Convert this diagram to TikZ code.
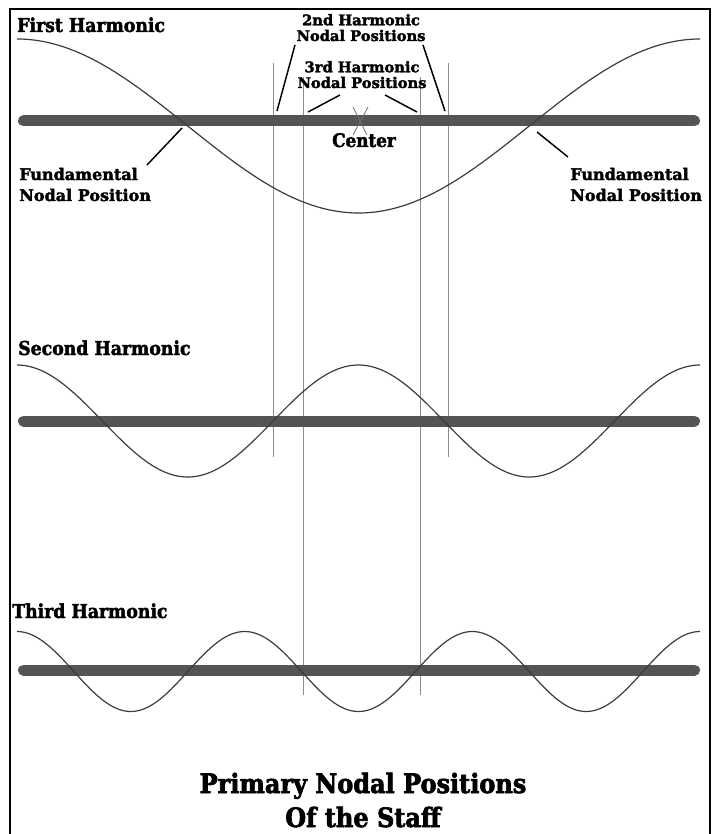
\documentclass[tikz,border=0pt]{standalone}
\usepackage{fontspec}
\newfontfamily\hfont{DejaVu Serif}[BoldFeatures={FakeBold=2.2}]
\newfontfamily\cfont{DejaVu Serif}[FakeStretch=0.9, BoldFeatures={FakeBold=2.2}]
\newfontfamily\tfont{DejaVu Serif}[FakeStretch=0.9, BoldFeatures={FakeBold=2.4}]
\definecolor{staffgray}{RGB}{84,84,84}
\definecolor{wavegray}{RGB}{60,60,60}
\definecolor{nodegray}{RGB}{140,140,140}
\tikzset{
  staffbar/.style={line width=8.25pt, color=staffgray, line cap=round},
  wave/.style={line width=0.9pt, color=wavegray},
  nodeline/.style={line width=0.55pt, color=nodegray},
  leader/.style={line width=1.1pt, black},
  crossline/.style={line width=0.6pt, color=nodegray!80!black},
  frame/.style={line width=1.8pt, black},
  lbl/.style={inner sep=0pt, align=center, text=black},
  big/.style={lbl, font=\cfont\bfseries\fontsize{14.4}{16}\selectfont},
  cen/.style={lbl, font=\cfont\bfseries\fontsize{14}{15}\selectfont},
  mid/.style={lbl, font=\hfont\bfseries\fontsize{12}{15.75}\selectfont},
  small/.style={lbl, font=\hfont\bfseries\fontsize{11}{11.8}\selectfont},
  title/.style={lbl, font=\tfont\bfseries\fontsize{20}{25.5}\selectfont}
}
\begin{document}
\begin{tikzpicture}[x=0.75pt,y=-0.75pt]
\useasboundingbox (0,0) rectangle (715,834);
% frame
\draw[frame] (10,835) -- (10,9) -- (710,9) -- (710,835);

% vertical nodal lines
\draw[nodeline] (273,63) -- (273,457);
\draw[nodeline] (448,63) -- (448,457);
\draw[nodeline] (303,77) -- (303,695);
\draw[nodeline] (420,77) -- (420,695);

% staffs
\draw[staffbar] (23.5,121) -- (694.5,121);
\draw[staffbar] (23.5,421) -- (694.5,421);
\draw[staffbar] (23.5,670) -- (694.5,670);

% waves
\draw[wave] plot[domain=17:700, samples=240, variable=\t] (\t, {126+87*cos(0.527086*(\t-358.5))});
\draw[wave] plot[domain=17:700, samples=240, variable=\t] (\t, {421-56*cos(1.054173*(\t-17))});
\draw[wave] plot[domain=17:700, samples=240, variable=\t] (\t, {671.5-40*cos(1.581259*(\t-17))});

% center cross
\coordinate (cx1) at (353,107);
\coordinate (cx2) at (367,135);
\coordinate (cx3) at (368,107);
\coordinate (cx4) at (353,135);
\draw[crossline] (cx1) -- (cx2);
\draw[crossline] (cx3) -- (cx4);

% labels
\node[big, anchor=base west] (first) at (17,32) {First Harmonic};
\node[big, anchor=base west] (second) at (18,355) {Second Harmonic};
\node[big, anchor=base west] (third) at (12,618) {Third Harmonic};

\node[small, anchor=base] (h2) at (361,41) {2nd Harmonic\\Nodal Positions};
\node[small, anchor=base] (h3) at (362,88) {3rd Harmonic\\Nodal Positions};
\node[cen, anchor=base] (center) at (364,147) {Center};

\node[mid, anchor=base west, align=left] (fundL) at (19,201) {Fundamental\\Nodal Position};
\node[mid, anchor=base west, align=left] (fundR) at (570,201) {Fundamental\\Nodal Position};

\node[title, anchor=base] (ttl) at (363,827) {Primary Nodal Positions\\Of the Staff};

% leader endpoints
\coordinate (n2L) at (277,111);
\coordinate (n2R) at (445,111);
\coordinate (n3L) at (308,112);
\coordinate (n3R) at (417,112);
\coordinate (fL) at (182,128);
\coordinate (fR) at (537,132);
\coordinate (h2Ls) at (295,45);
\coordinate (h2Rs) at (423,45);
\coordinate (h3Ls) at (340,95);
\coordinate (h3Rs) at (385,95);
\coordinate (fLs) at (147,165);
\coordinate (fRs) at (568,157);

\draw[leader] (h2Ls) -- (n2L);
\draw[leader] (h2Rs) -- (n2R);
\draw[leader] (h3Ls) -- (n3L);
\draw[leader] (h3Rs) -- (n3R);
\draw[leader] (fLs) -- (fL);
\draw[leader] (fRs) -- (fR);
\end{tikzpicture}
\end{document}
